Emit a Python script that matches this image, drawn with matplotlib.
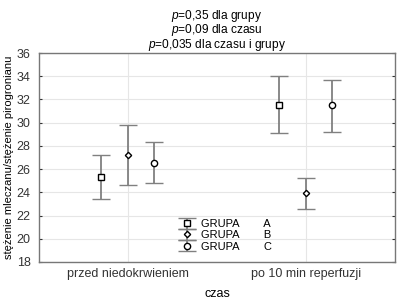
import numpy as np
import matplotlib
matplotlib.use("Agg")
import matplotlib.pyplot as plt

categories = ["przed niedokrwieniem", "po 10 min reperfuzji"]
groups = ["A", "B", "C"]
means = {"A": [25.3, 31.5], "B": [27.2, 23.9], "C": [26.5, 31.5]}
upper = {"A": [27.2, 34.0], "B": [29.8, 25.2], "C": [28.3, 33.7]}
lower = {"A": [23.4, 29.1], "B": [24.6, 22.6], "C": [24.8, 29.2]}
yticks = np.arange(18, 37, 2)
title_lines = ["$p$=0,35 dla grupy", "$p$=0,09 dla czasu", "$p$=0,035 dla czasu i grupy"]

markers = {"A": "s", "B": "D", "C": "o"}
msizes = {"A": 4.5, "B": 3.2, "C": 4.5}
offsets = {"A": -0.15, "B": 0.0, "C": 0.146}

plt.rcParams['font.family'] = ['Liberation Sans', 'DejaVu Sans']
plt.rcParams['mathtext.fontset'] = 'custom'
plt.rcParams['mathtext.it'] = 'Liberation Sans:italic'
plt.rcParams['mathtext.rm'] = 'Liberation Sans'
fig = plt.figure(figsize=(4.0, 3.02), dpi=100)
ax = fig.add_axes([0.0975, 0.1325, 0.89, 0.692])

x = np.arange(len(categories))
for g in groups:
    m = np.array(means[g])
    yerr = [m - np.array(lower[g]), np.array(upper[g]) - m]
    ax.errorbar(x + offsets[g], m, yerr=yerr, fmt=markers[g], color='#808080',
                ecolor='#808080', elinewidth=1.3, capsize=6.5, capthick=1.3,
                mfc='white', mec='black', mew=1.0, ms=msizes[g],
                label=f"GRUPA        {g}", zorder=3)

ax.set_xlim(-0.5, 1.5)
ax.set_ylim(18, 36)
ax.set_yticks(yticks)
ax.set_xticks(x)
ax.set_xticklabels(categories, fontsize=9)
ax.tick_params(axis='y', labelsize=9, length=0, pad=6, colors='#333333')
ax.tick_params(axis='x', length=0, pad=4, colors='#333333')
ax.tick_params(axis='y', which='both', right=True, direction='in', length=2)
ax.grid(True, color='#e6e6e6', lw=0.8)
ax.set_axisbelow(True)
for s in ax.spines.values():
    s.set_color('#777777')
    s.set_linewidth(1.0)

ax.set_ylabel("stężenie mleczanu/stężenie pirogronianu", fontsize=8, labelpad=2)
ax.set_xlabel("czas", fontsize=9, labelpad=6)

# three-line header as one text block
fig.text(0.5425, 0.975, "\n".join(title_lines), fontsize=8.6, ha='center',
         va='top', linespacing=0.88, multialignment='center')

ax.legend(loc='lower left', bbox_to_anchor=(0.37, 0.012), frameon=False,
          fontsize=8, handlelength=1.5, handletextpad=0.5, labelspacing=0.12,
          borderpad=0.2)

fig.savefig("out.png", dpi=100, facecolor='white')
